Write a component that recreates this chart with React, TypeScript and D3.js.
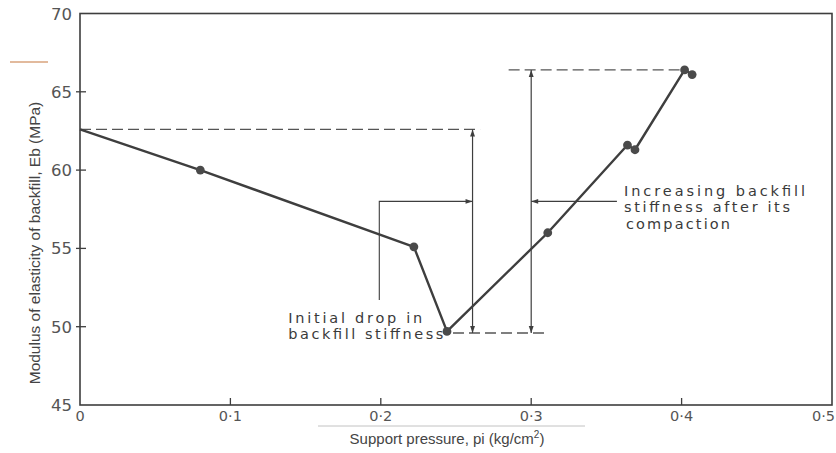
import React from "react";
import * as d3 from "d3";

// support pressure (kg/cm2) and modulus of backfill (MPa)
const pressure = [0, 0.08, 0.222, 0.244, 0.311, 0.364, 0.369, 0.402, 0.407];
const modulus = [62.6, 60.0, 55.1, 49.7, 56.0, 61.6, 61.3, 66.4, 66.1];

const xTicks = [0, 0.1, 0.2, 0.3, 0.4, 0.5];
const yTicks = [45, 50, 55, 60, 65, 70];

// reference levels used by the dashed guides and the double arrows
const initialLevel = 62.6;
const minLevel = 49.6;
const peakLevel = 66.4;
const dropArrowX = 0.261;
const riseArrowX = 0.3;
const leaderLevel = 58.0;

const initialNote = ["Initial drop in", "backfill stiffness"];
const increaseNote = ["Increasing backfill", "stiffness after its", "compaction"];

const W = 836;
const H = 453;

const x = d3.scaleLinear().domain([0, 0.5]).range([80, 832]);
const y = d3.scaleLinear().domain([45, 70]).range([405, 13.5]);

const ink = "#3e3e3e";
const guide = "#555";

const fmtX = (d: number) => (d === 0 ? "0" : d3.format(".1f")(d).replace(".", "\u00b7"));

export default function App() {
  const pts = pressure.map((p, i) => [p, modulus[i]] as [number, number]);
  const line = d3
    .line<[number, number]>()
    .x((d) => x(d[0]))
    .y((d) => y(d[1]));

  const dash = "11 5";

  return (
    <svg
      width={W}
      height={H}
      style={{ position: "absolute", left: 0, top: 0, background: "#fff" }}
    >
      <defs>
        <marker
          id="ah"
          viewBox="0 0 10 10"
          refX="10"
          refY="5"
          markerWidth="9"
          markerHeight="7"
          markerUnits="userSpaceOnUse"
          orient="auto-start-reverse"
        >
          <path d="M0,1.5 L10,5 L0,8.5 Z" fill={ink} />
        </marker>
      </defs>

      {/* scan marks */}
      <line x1={10} x2={48} y1={62} y2={62} stroke="#d9a37c" strokeWidth={1.6} />
      <line x1={318} x2={585} y1={426} y2={426} stroke="#c2c2c2" strokeWidth={1} />

      {/* frame */}
      <rect
        x={x(0)}
        y={y(70)}
        width={x(0.5) - x(0)}
        height={y(45) - y(70)}
        fill="none"
        stroke={ink}
        strokeWidth={1.6}
      />

      {/* y axis */}
      {yTicks.map((t) => (
        <g key={"y" + t}>
          {t > 45 && t < 70 && (
            <line x1={x(0) - 4} x2={x(0) + 6} y1={y(t)} y2={y(t)} stroke={ink} strokeWidth={1.3} />
          )}
          <text
            x={72}
            y={y(t) + 6}
            textAnchor="end"
            fontFamily="DejaVu Sans"
            fontSize={16.5}
            fill="#555"
          >
            {t}
          </text>
        </g>
      ))}

      {/* x axis */}
      {xTicks.map((t) => (
        <g key={"x" + t}>
          {t > 0 && t < 0.5 && (
            <line x1={x(t)} x2={x(t)} y1={y(45)} y2={y(45) - 7} stroke={ink} strokeWidth={1.3} />
          )}
          <text
            x={t === 0.5 ? W - 1 : x(t)}
            y={421}
            textAnchor={t === 0.5 ? "end" : "middle"}
            fontFamily="DejaVu Sans"
            fontSize={14.5}
            fill="#555"
          >
            {fmtX(t)}
          </text>
        </g>
      ))}

      {/* axis titles */}
      <text
        x={447}
        y={444}
        textAnchor="middle"
        fontFamily="Liberation Sans, Arial, sans-serif"
        fontSize={15}
        fill="#444"
      >
        Support pressure, pi (kg/cm
        <tspan fontSize={10} dy={-6}>
          2
        </tspan>
        <tspan dy={6}>)</tspan>
      </text>
      <text
        transform={`translate(40, ${243}) rotate(-90)`}
        textAnchor="middle"
        fontFamily="Liberation Sans, Arial, sans-serif"
        fontSize={15.5}
        fill="#444"
      >
        Modulus of elasticity of backfill, Eb (MPa)
      </text>

      {/* dashed guides */}
      <line
        x1={x(0)}
        x2={x(0.266)}
        y1={y(initialLevel)}
        y2={y(initialLevel)}
        stroke={guide}
        strokeWidth={1.4}
        strokeDasharray={dash}
      />
      <line
        x1={x(0.285)}
        x2={x(0.402)}
        y1={y(peakLevel)}
        y2={y(peakLevel)}
        stroke={guide}
        strokeWidth={1.4}
        strokeDasharray={dash}
      />
      <line
        x1={x(0.248)}
        x2={x(0.31)}
        y1={y(minLevel)}
        y2={y(minLevel)}
        stroke={guide}
        strokeWidth={1.4}
        strokeDasharray={dash}
      />

      {/* double arrows */}
      <line
        x1={x(dropArrowX)}
        x2={x(dropArrowX)}
        y1={y(initialLevel)}
        y2={y(minLevel)}
        stroke={ink}
        strokeWidth={1.2}
        markerStart="url(#ah)"
        markerEnd="url(#ah)"
      />
      <line
        x1={x(riseArrowX)}
        x2={x(riseArrowX)}
        y1={y(peakLevel)}
        y2={y(minLevel)}
        stroke={ink}
        strokeWidth={1.2}
        markerStart="url(#ah)"
        markerEnd="url(#ah)"
      />

      {/* leaders */}
      <path
        d={`M${x(0.199)},${y(51.7)} V${y(leaderLevel)} H${x(dropArrowX)}`}
        fill="none"
        stroke={ink}
        strokeWidth={1.1}
        markerEnd="url(#ah)"
      />
      <line
        x1={x(0.357)}
        x2={x(riseArrowX)}
        y1={y(leaderLevel)}
        y2={y(leaderLevel)}
        stroke={ink}
        strokeWidth={1.1}
        markerEnd="url(#ah)"
      />

      {/* data line */}
      <path d={line(pts) || ""} fill="none" stroke={ink} strokeWidth={2.4} strokeLinejoin="round" />
      {pts
        .filter((d) => d[0] > 0)
        .map((d, i) => (
          <circle key={i} cx={x(d[0])} cy={y(d[1])} r={4.4} fill="#4a4a4a" />
        ))}

      {/* notes */}
      <text fontFamily="DejaVu Sans" fontSize={14.5} fill="#3a3a3a">
        <tspan x={x(0.1385)} y={y(50.26)} textLength={134} lengthAdjust="spacing">
          {initialNote[0]}
        </tspan>
        <tspan x={x(0.1385)} y={y(50.26) + 16} textLength={155} lengthAdjust="spacing">
          {initialNote[1]}
        </tspan>
      </text>
      <text fontFamily="DejaVu Sans" fontSize={14.5} fill="#3a3a3a">
        {increaseNote.map((s, i) => (
          <tspan
            key={i}
            x={x(0.3617) + (i === 2 ? 2 : 0)}
            y={y(58.37) + i * 16.7}
            textLength={[181, 166, 104][i]}
            lengthAdjust="spacing"
          >
            {s}
          </tspan>
        ))}
      </text>
    </svg>
  );
}
